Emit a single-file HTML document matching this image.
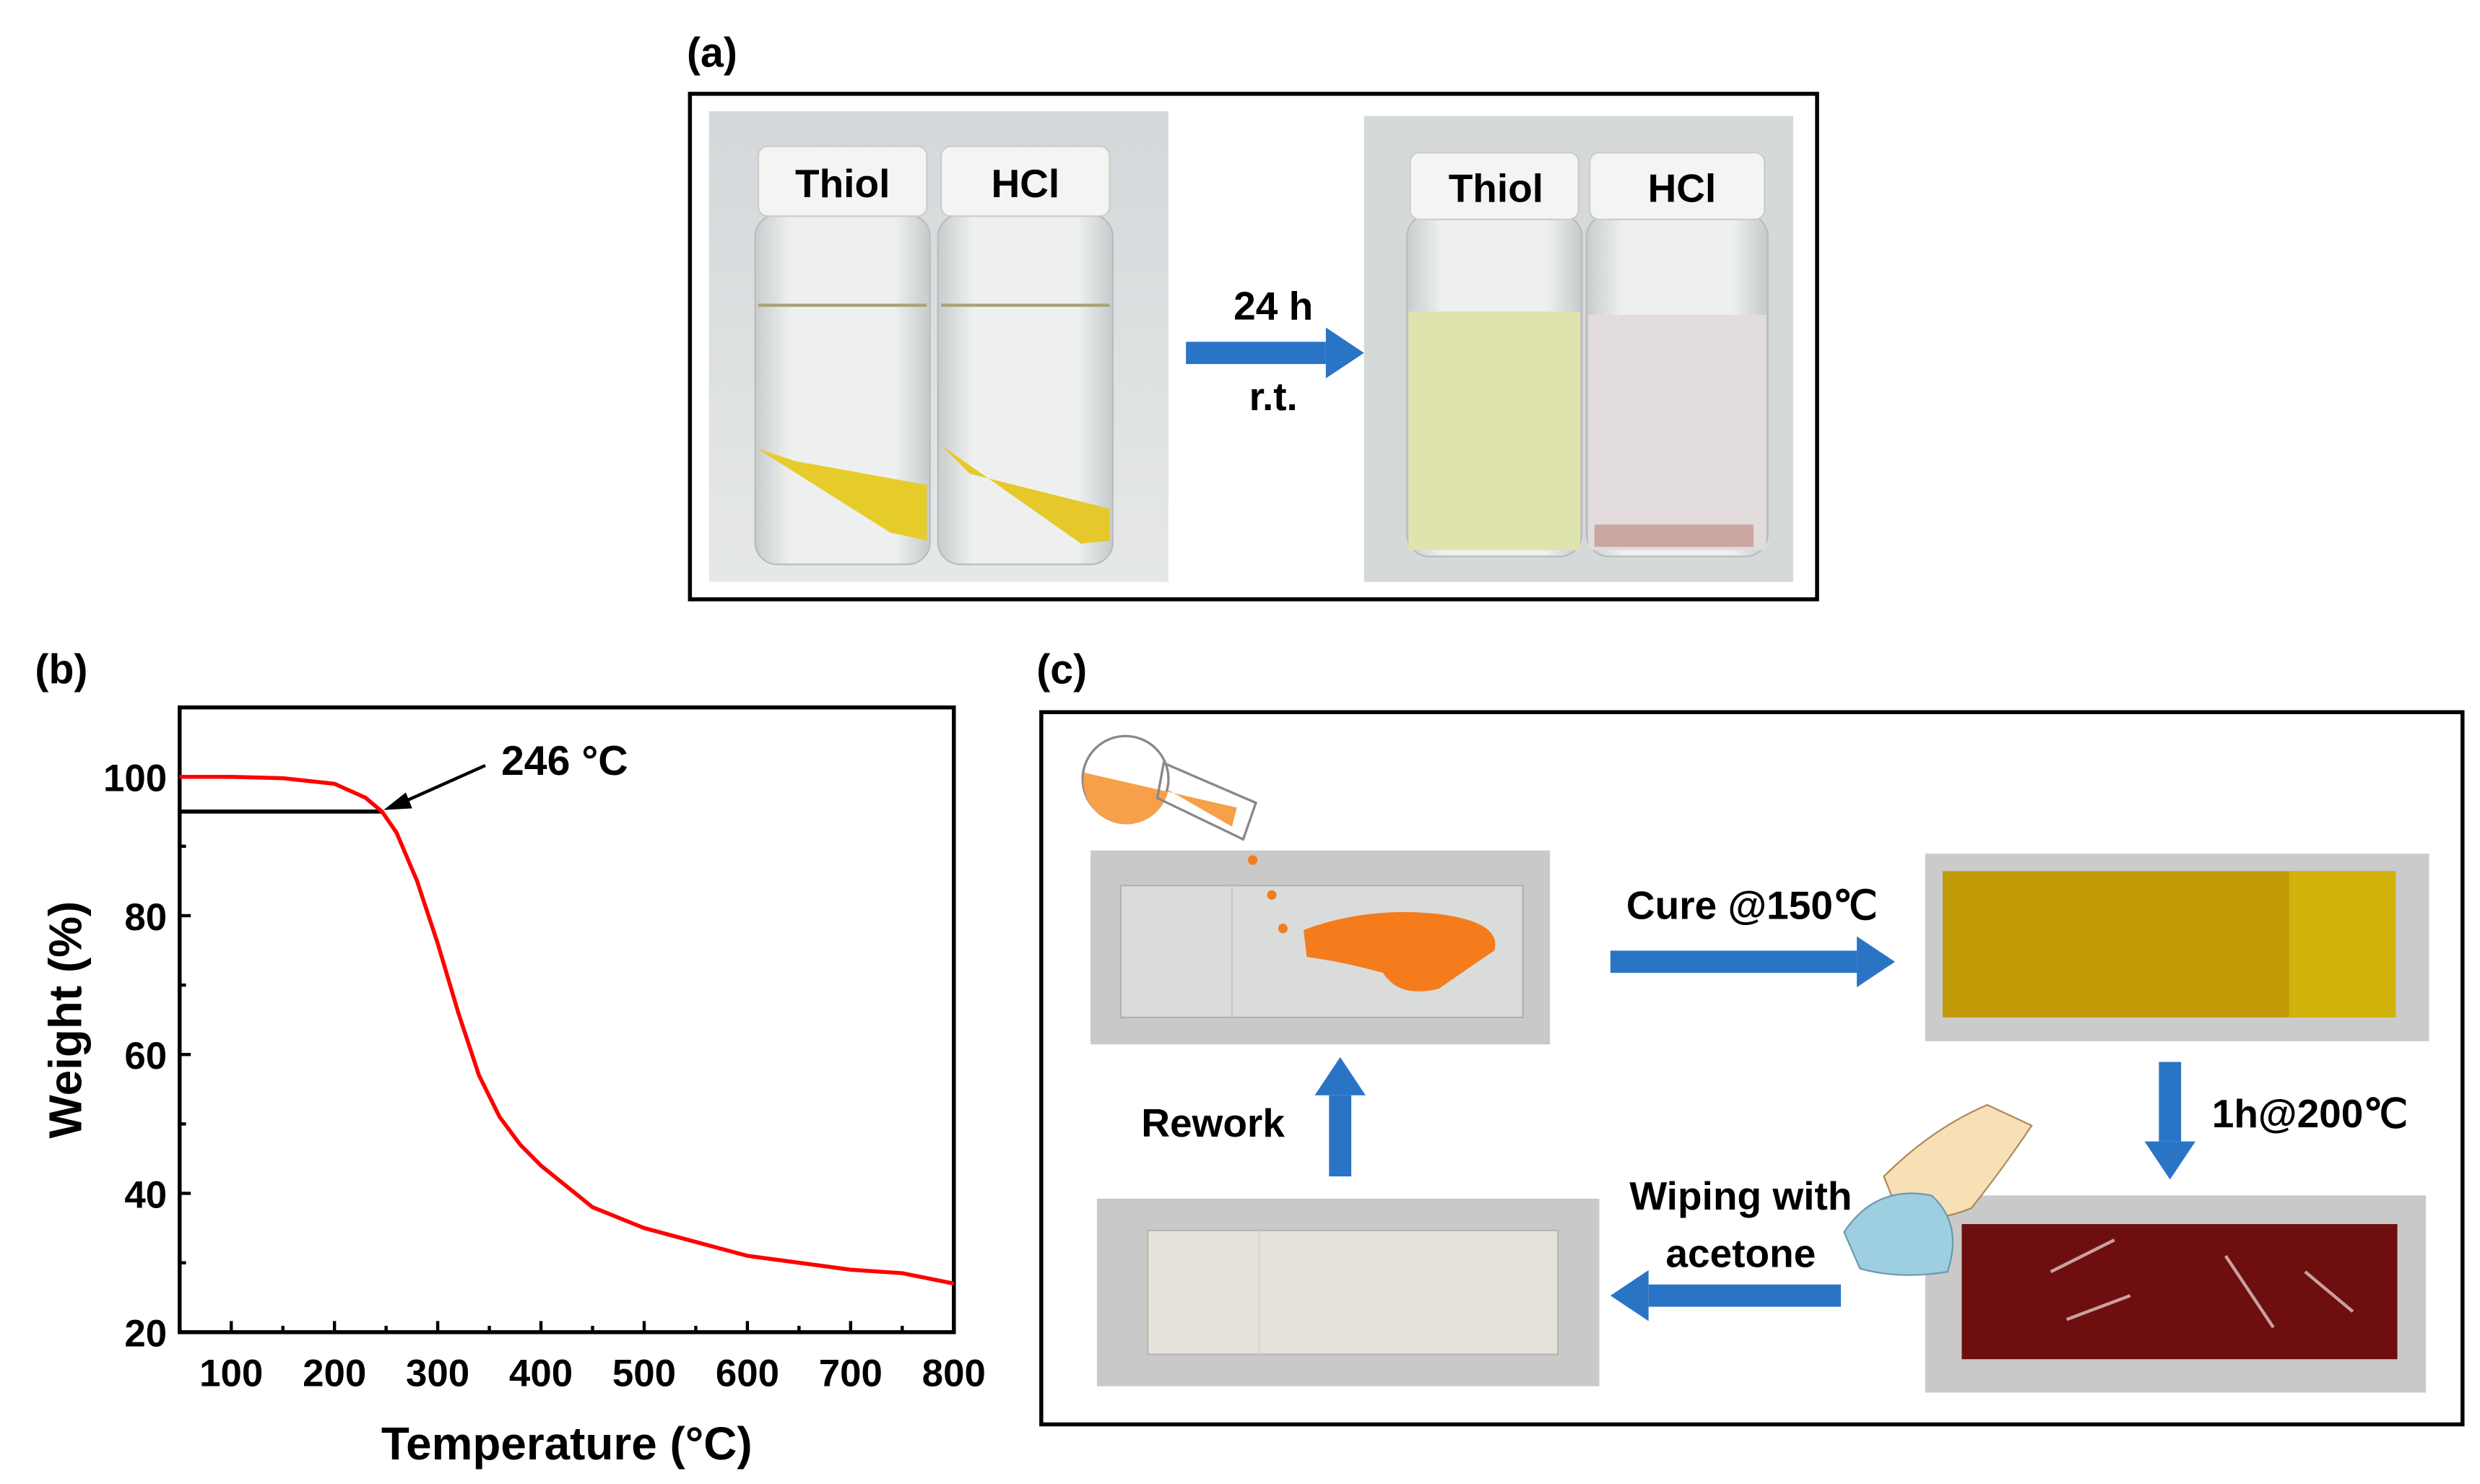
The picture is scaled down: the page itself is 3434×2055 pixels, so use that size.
<!DOCTYPE html>
<html><head><meta charset="utf-8"><style>
html,body{margin:0;padding:0;background:#fff}
svg{display:block}
text{font-family:"Liberation Sans",Arial,sans-serif;font-weight:bold}
</style></head><body>
<svg width="3434" height="2055" viewBox="0 0 1560 933.5" preserveAspectRatio="none" xmlns="http://www.w3.org/2000/svg">
<defs>
<linearGradient id="bgA" x1="0" y1="0" x2="0" y2="1"><stop offset="0" stop-color="#d4d8da"/><stop offset="1" stop-color="#e6e8e8"/></linearGradient>
<linearGradient id="glass" x1="0" y1="0" x2="1" y2="0"><stop offset="0" stop-color="#c9cccc"/><stop offset="0.2" stop-color="#eef0f0"/><stop offset="0.8" stop-color="#eef0f0"/><stop offset="1" stop-color="#c6caca"/></linearGradient>
</defs>

<!-- Panel a -->
<text x="432" y="42" font-size="26">(a)</text>
<rect x="434" y="59" width="709" height="318" fill="#fff" stroke="#000" stroke-width="2.5"/>
<g>
<rect x="446" y="70" width="289" height="296" fill="url(#bgA)"/>
<rect x="475" y="135" width="110" height="220" rx="14" fill="url(#glass)" stroke="#b8bcbc"/>
<rect x="590" y="135" width="110" height="220" rx="14" fill="url(#glass)" stroke="#b8bcbc"/>
<rect x="477" y="92" width="106" height="44" rx="6" fill="#f4f4f2" stroke="#ccc"/>
<rect x="592" y="92" width="106" height="44" rx="6" fill="#f4f4f2" stroke="#ccc"/>
<line x1="477" y1="192" x2="583" y2="192" stroke="#a9a27a" stroke-width="2"/>
<line x1="592" y1="192" x2="698" y2="192" stroke="#a9a27a" stroke-width="2"/>
<polygon points="476,282 500,290 583,305 583,340 560,335" fill="#e6cc2a"/>
<polygon points="592,280 610,298 698,320 698,340 680,342" fill="#e6c82a"/>
<text x="530" y="124" font-size="25" text-anchor="middle">Thiol</text>
<text x="645" y="124" font-size="25" text-anchor="middle">HCl</text>
</g>
<g>
<rect x="746" y="215" width="88" height="14" fill="#2a74c6"/>
<polygon points="834,206 858,222 834,238" fill="#2a74c6"/>
<text x="801" y="201" font-size="25" text-anchor="middle">24 h</text>
<text x="801" y="258" font-size="25" text-anchor="middle">r.t.</text>
</g>
<g>
<rect x="858" y="73" width="270" height="293" fill="#d5d9d9"/>
<rect x="885" y="135" width="110" height="215" rx="14" fill="url(#glass)" stroke="#b8bcbc"/>
<rect x="998" y="135" width="114" height="215" rx="14" fill="url(#glass)" stroke="#b8bcbc"/>
<rect x="886" y="196" width="108" height="150" fill="#dfe3ad"/>
<rect x="999" y="198" width="112" height="148" fill="#e2dcdc"/>
<rect x="1003" y="330" width="100" height="14" fill="#c9a7a0"/>
<rect x="887" y="96" width="106" height="42" rx="6" fill="#f4f4f2" stroke="#ccc"/>
<rect x="1000" y="96" width="110" height="42" rx="6" fill="#f4f4f2" stroke="#ccc"/>
<text x="941" y="127" font-size="25" text-anchor="middle">Thiol</text>
<text x="1058" y="127" font-size="25" text-anchor="middle">HCl</text>
</g>

<!-- Panel b chart -->
<text x="22" y="430" font-size="26">(b)</text>
<g id="chart"></g>

<!-- Panel c -->
<text x="652" y="430" font-size="26">(c)</text>
<rect x="655" y="448" width="894" height="448" fill="#fff" stroke="#000" stroke-width="2.5"/>
<g>
<rect x="686" y="535" width="289" height="122" fill="#c9c9c9"/>
<rect x="705" y="557" width="253" height="83" fill="#dadcdc" stroke="#b0b2b2"/>
<line x1="775" y1="557" x2="775" y2="640" stroke="#c4c6c6"/>
<path d="M820,585 Q860,570 905,575 Q945,580 940,598 Q925,608 905,622 Q880,628 870,612 Q845,605 822,602 Z" fill="#f57c1c"/>
<circle cx="788" cy="541" r="3" fill="#f57c1c"/><circle cx="800" cy="563" r="3" fill="#f57c1c"/><circle cx="807" cy="584" r="3" fill="#f57c1c"/>
</g>
<g>
<circle cx="708" cy="490" r="27" fill="#fff" stroke="#888" stroke-width="1.5"/>
<path d="M682,486 A27,27 0 0 0 735,497 L775,520 L778,508 Z" fill="#f7a04a"/>
<polygon points="732,480 790,505 782,528 728,502" fill="none" stroke="#888" stroke-width="1.5"/>
</g>
<g>
<rect x="1211" y="537" width="317" height="118" fill="#cbcbcb"/>
<rect x="1222" y="548" width="285" height="92" fill="#c29c08"/>
<rect x="1440" y="548" width="67" height="92" fill="#d1b20a"/>
</g>
<g>
<rect x="1211" y="752" width="315" height="124" fill="#c9c9c9"/>
<rect x="1234" y="770" width="274" height="85" fill="#6e0e0e"/>
<path d="M1290,800 L1330,780 M1300,830 L1340,815 M1400,790 L1430,835 M1450,800 L1480,825" stroke="#c9a0a0" stroke-width="2"/>
</g>
<g>
<rect x="690" y="754" width="316" height="118" fill="#c9c9c9"/>
<rect x="722" y="774" width="258" height="78" fill="#e4e2da" stroke="#b8b6b0"/>
<line x1="792" y1="774" x2="792" y2="852" stroke="#d6d4cc"/>
</g>
<g>
<path d="M1185,740 Q1215,710 1250,695 L1278,708 Q1260,735 1240,760 Q1215,770 1195,765 Z" fill="#f7dfb6" stroke="#b08858"/>
<path d="M1160,775 Q1180,745 1215,752 Q1235,770 1225,800 Q1195,805 1170,798 Z" fill="#9ecfe0" stroke="#6a9ab0"/>
</g>
<g>
<rect x="1013" y="598" width="155" height="14" fill="#2a74c6"/><polygon points="1168,589 1192,605 1168,621" fill="#2a74c6"/>
<text x="1102" y="578" font-size="25" text-anchor="middle">Cure @150℃</text>
</g>
<g>
<rect x="1358" y="668" width="14" height="50" fill="#2a74c6"/><polygon points="1349,718 1381,718 1365,742" fill="#2a74c6"/>
<text x="1453" y="709" font-size="25" text-anchor="middle">1h@200℃</text>
</g>
<g>
<rect x="1037" y="808" width="121" height="14" fill="#2a74c6"/><polygon points="1037,799 1013,815 1037,831" fill="#2a74c6"/>
<text x="1095" y="761" font-size="25" text-anchor="middle">Wiping with</text>
<text x="1095" y="797" font-size="25" text-anchor="middle">acetone</text>
</g>
<g>
<rect x="836" y="689" width="14" height="51" fill="#2a74c6"/><polygon points="827,689 859,689 843,665" fill="#2a74c6"/>
<text x="763" y="715" font-size="25" text-anchor="middle">Rework</text>
</g>
</svg>
<script>
const temps=[50,100,150,200,230,246,260,280,300,320,340,360,380,400,450,500,550,600,650,700,750,800];
const weights=[100,100,99.8,99,97,95,92,85,76,66,57,51,47,44,38,35,33,31,30,29,28.5,27];
const xTicks=[100,200,300,400,500,600,700,800];
const yTicks=[20,40,60,80,100];
const onsetT=246, onsetW=95;
const NS='http://www.w3.org/2000/svg';
const g=document.getElementById('chart');
const L=113,R=600,T=445,B=838;
const sx=v=>L+(v-50)/750*(R-L);
const sy=v=>B-(v-20)/90*(B-T);
function mk(tag,attrs){const e=document.createElementNS(NS,tag);for(const k in attrs)e.setAttribute(k,attrs[k]);g.appendChild(e);return e;}
let e=mk('rect',{x:L,y:T,width:R-L,height:B-T,fill:'none',stroke:'#000','stroke-width':2.5});


xTicks.forEach(v=>{
 let t=mk('line',{x1:sx(v),x2:sx(v),y1:B,y2:B-7,stroke:'#000','stroke-width':2});
 
 
 let m=mk('line',{x1:sx(v-50),x2:sx(v-50),y1:B,y2:B-4,stroke:'#000','stroke-width':2});
 
 
 let l=mk('text',{x:sx(v),y:B+34,'font-size':24,'text-anchor':'middle'});l.textContent=v;
 
 
});
yTicks.forEach(v=>{
 let t=mk('line',{x1:L,x2:L+7,y1:sy(v),y2:sy(v),stroke:'#000','stroke-width':2});
 
 
 let m=mk('line',{x1:L,x2:L+4,y1:sy(v+10),y2:sy(v+10),stroke:'#000','stroke-width':2});
 
 
 let l=mk('text',{x:L-8,y:sy(v)+9,'font-size':24,'text-anchor':'end'});l.textContent=v;
 
 
});
let xt=mk('text',{x:(L+R)/2,y:B+80,'font-size':29,'text-anchor':'middle'});xt.textContent='Temperature (°C)';


let yt=mk('text',{x:0,y:0,'font-size':29,'text-anchor':'middle',transform:`translate(${L-62},${(T+B)/2}) rotate(-90)`});yt.textContent='Weight (%)';


let hl=mk('line',{x1:L,x2:sx(onsetT),y1:sy(onsetW),y2:sy(onsetW),stroke:'#000','stroke-width':2.5});


let p=mk('polyline',{points:temps.map((t,i)=>sx(t)+','+sy(weights[i])).join(' '),fill:'none',stroke:'#f00','stroke-width':2.5,'stroke-linejoin':'round'});


const ax=sx(onsetT)+1, ay=sy(onsetW)-1;
let ar=mk('line',{x1:ax+64,y1:ay-28,x2:ax+8,y2:ay-3,stroke:'#000','stroke-width':2});


let ah=mk('polygon',{points:`${ax},${ay} ${ax+14},${ay-11} ${ax+18},${ay-1}`,fill:'#000'});


let at=mk('text',{x:ax+74,y:ay-22,'font-size':26});at.textContent=onsetT+' °C';


</script>
</body></html>
